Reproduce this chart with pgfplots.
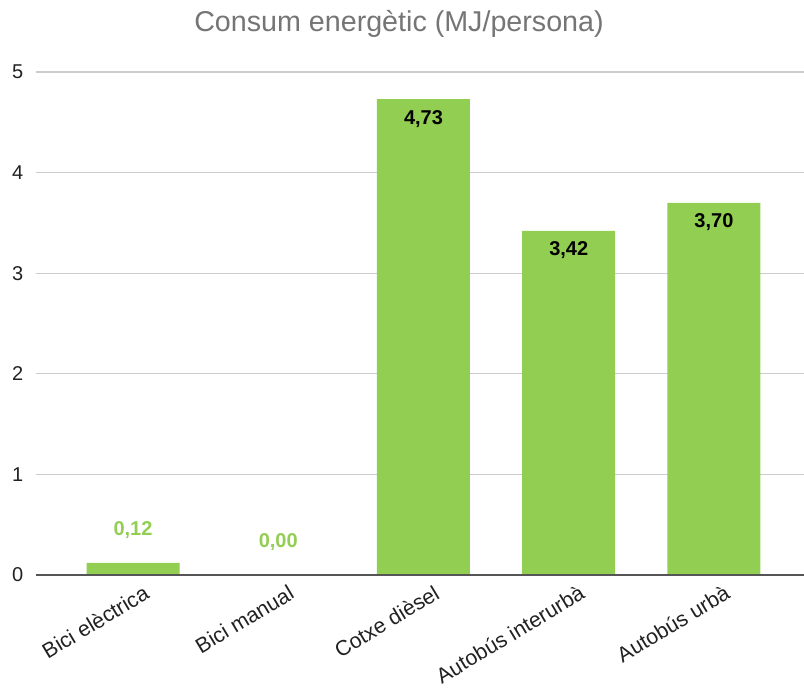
\documentclass[border=0pt]{standalone}
\usepackage{fontspec}
\setmainfont{Liberation Sans}
\usepackage{pgfplots}
\usepackage{pgfplotstable}
\pgfplotsset{compat=1.18}

\definecolor{barg}{RGB}{146,206,82}
\definecolor{titlegray}{RGB}{117,117,117}
\definecolor{gridgray}{RGB}{204,204,204}
\definecolor{basegray}{RGB}{85,85,85}

% bars
\pgfplotstableread{
x y
0 0.12
1 0.00
2 4.73
3 3.42
4 3.70
}\bars
% labels set inside the bars
\pgfplotstableread{
x y lab
2 4.73 4,73
3 3.42 3,42
4 3.70 3,70
}\inlabels
% labels set above the short bars
\pgfplotstableread{
x y lab
0 0.12 0,12
1 0.00 0,00
}\outlabels

\begin{document}
\begin{tikzpicture}
\begin{axis}[
    scale only axis,
    width=576pt, height=377.25pt,
    xmin=-0.668, xmax=4.62,
    ymin=0, ymax=5,
    ytick={0,1,2,3,4,5},
    xtick={0,1,2,3,4},
    xticklabels={Bici elèctrica, Bici manual, Cotxe dièsel, Autobús interurbà, Autobús urbà},
    axis line style={draw=none},
    major tick length=0pt,
    ymajorgrids,
    grid style={gridgray, line width=0.8pt},
    /pgf/number format/assume math mode=true,
    yticklabel style={font=\fontsize{15}{17}\selectfont, text=black!87, xshift=-6pt},
    xticklabel style={font=\fontsize{16}{18}\selectfont, text=black!87,
        rotate=31, anchor=north east, xshift=6pt, yshift=-6pt},
    clip=false,
]
\addplot[ybar, bar width=69.75pt, fill=barg, draw=none] table[x=x, y=y] {\bars};

\addplot[draw=none, mark=none, nodes near coords, point meta=explicit symbolic,
    every node near coord/.append style={anchor=north, yshift=-8pt, inner sep=0pt,
        font=\fontsize{15}{18}\selectfont\bfseries, text=black}]
    table[x=x, y=y, meta=lab] {\inlabels};

\addplot[draw=none, mark=none, nodes near coords, point meta=explicit symbolic,
    every node near coord/.append style={anchor=south, yshift=18pt, inner sep=0pt,
        font=\fontsize{15}{18}\selectfont\bfseries, text=barg}]
    table[x=x, y=y, meta=lab] {\outlabels};

\draw[basegray, line width=1pt] (rel axis cs:0,0) -- (rel axis cs:1,0);

\node[font=\fontsize{21.5}{24}\selectfont, text=titlegray]
    at ([xshift=-15.75pt, yshift=36pt]rel axis cs:0.5,1) {Consum energètic (MJ/persona)};

\coordinate (sw) at (rel axis cs:0,0);
\coordinate (ne) at (rel axis cs:1,1);
\end{axis}
\pgfresetboundingbox
\path ([shift={(-27pt,-88.5pt)}]sw) rectangle ([shift={(0pt,54pt)}]ne);
\end{tikzpicture}
\end{document}
